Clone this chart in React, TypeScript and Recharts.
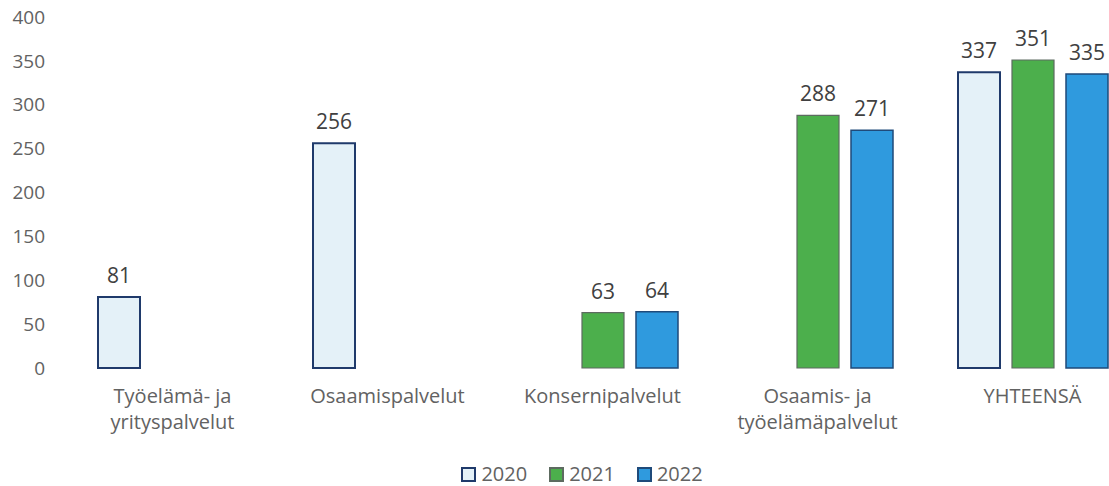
import React from "react";
import { BarChart, Bar, XAxis, YAxis, Legend, LabelList } from "recharts";

const categories = [
  "Työelämä- ja yrityspalvelut",
  "Osaamispalvelut",
  "Konsernipalvelut",
  "Osaamis- ja työelämäpalvelut",
  "YHTEENSÄ",
];
const values2020: (number | null)[] = [81, 256, null, null, 337];
const values2021: (number | null)[] = [null, null, 63, 288, 351];
const values2022: (number | null)[] = [null, null, 64, 271, 335];
const seriesNames = ["2020", "2021", "2022"];
const yTicks = [0, 50, 100, 150, 200, 250, 300, 350, 400];

const data = categories.map((name, i) => ({
  name,
  v2020: values2020[i],
  v2021: values2021[i],
  v2022: values2022[i],
}));

const FONT = "'Open Sans', 'Noto Sans', sans-serif";

const styles = [
  { key: "v2020", fill: "#e4f1f8", stroke: "#1f3a6b", strokeWidth: 2 },
  { key: "v2021", fill: "#4caf4c", stroke: "#5d6b60", strokeWidth: 1.2 },
  { key: "v2022", fill: "#2f9ade", stroke: "#1f4a7a", strokeWidth: 1.5 },
];

const CategoryTick = (props: any) => {
  const { x, y, payload } = props;
  const text: string = payload.value;
  const lines = text.split(/(?<=ja) /);
  return (
    <g transform={`translate(${x},${y})`}>
      {lines.map((ln, i) => (
        <text
          key={i}
          x={0}
          y={35 + i * 26}
          textAnchor="middle"
          fill="#626262"
          fontSize={20}
          fontFamily={FONT}
        >
          {ln}
        </text>
      ))}
    </g>
  );
};

const ValueLabel = (props: any) => {
  const { x, y, width, value } = props;
  if (value === null || value === undefined) return null;
  return (
    <text
      x={x + width / 2}
      y={y - 14}
      textAnchor="middle"
      fill="#404040"
      fontSize={21}
      fontFamily={FONT}
    >
      {value}
    </text>
  );
};

const LegendContent = () => (
  <div
    style={{
      display: "flex",
      justifyContent: "center",
      alignItems: "center",
      height: 30,
      paddingTop: 6,
      paddingLeft: 24,
      boxSizing: "border-box",
      fontFamily: FONT,
      fontSize: 20,
      lineHeight: "24px",
      color: "#626262",
    }}
  >
    {seriesNames.map((n, i) => (
      <div key={n} style={{ display: "flex", alignItems: "center", marginRight: i < 2 ? 22 : 0 }}>
        <span
          style={{
            display: "inline-block",
            width: 11,
            height: 11,
            background: styles[i].fill,
            border: `2px solid ${styles[i].stroke}`,
            marginRight: 5,
          }}
        />
        <span>{n}</span>
      </div>
    ))}
  </div>
);

export default function App() {
  return (
    <div
      style={{
        position: "absolute",
        left: 0,
        top: 0,
        width: 1109,
        height: 486,
        overflow: "hidden",
        background: "#ffffff",
      }}
    >
      <BarChart
        width={1140}
        height={486}
        data={data}
        margin={{ top: 17, right: 0, bottom: 0, left: 0 }}
        barCategoryGap={33}
        barGap={12}
      >
        <XAxis
          dataKey="name"
          axisLine={false}
          tickLine={false}
          tickSize={0}
          tickMargin={0}
          height={88}
          interval={0}
          tick={<CategoryTick />}
        />
        <YAxis
          domain={[0, 400]}
          ticks={yTicks}
          axisLine={false}
          tickLine={false}
          tickSize={0}
          tickMargin={20}
          width={65}
          tick={{ fill: "#626262", fontSize: 19, fontFamily: FONT }}
        />
        <Legend verticalAlign="bottom" content={<LegendContent />} />
        {styles.map((s, i) => (
          <Bar
            key={s.key}
            dataKey={s.key}
            name={seriesNames[i]}
            fill={s.fill}
            stroke={s.stroke}
            strokeWidth={s.strokeWidth}
            isAnimationActive={false}
          >
            <LabelList dataKey={s.key} content={<ValueLabel />} />
          </Bar>
        ))}
      </BarChart>
    </div>
  );
}
